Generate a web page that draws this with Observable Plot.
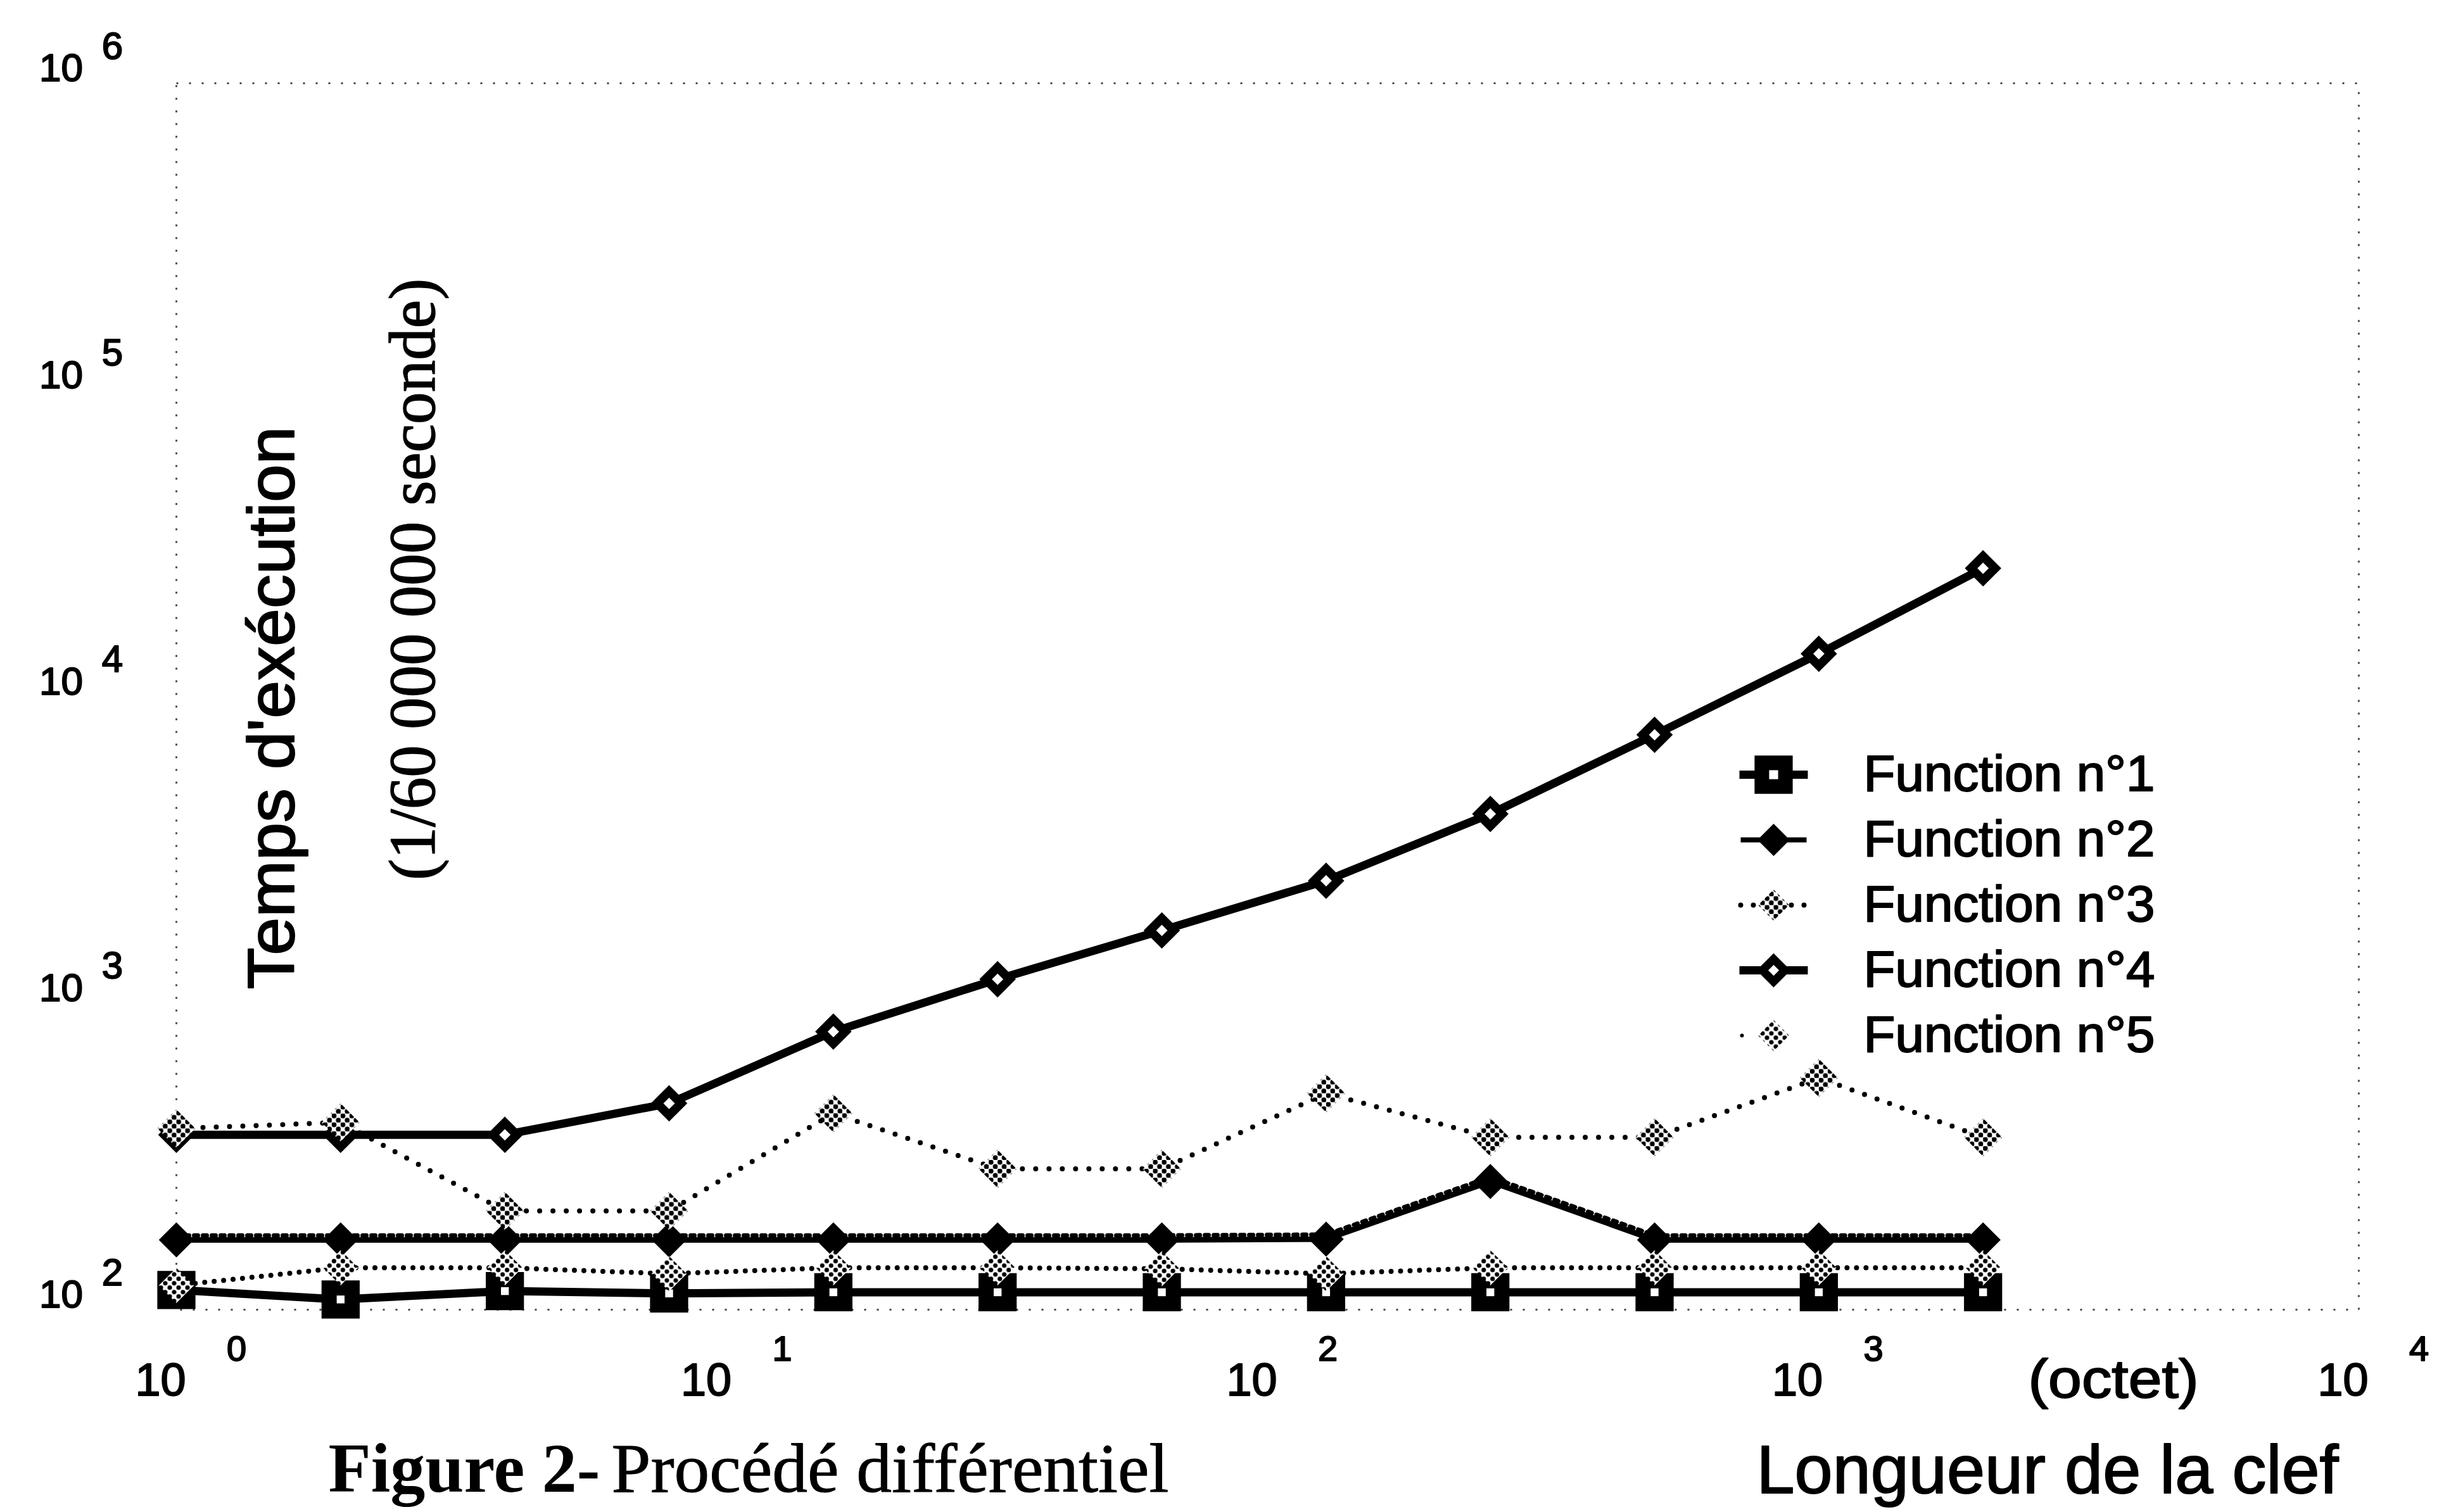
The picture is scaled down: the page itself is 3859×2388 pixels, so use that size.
<!DOCTYPE html>
<html>
<head>
<meta charset="utf-8">
<script src="https://cdn.jsdelivr.net/npm/d3@7"></script>
<script src="https://cdn.jsdelivr.net/npm/@observablehq/plot@0.6"></script>
<style>
  html, body { margin: 0; padding: 0; background: #fff; }
  #chart { width: 3859px; height: 2388px; overflow: hidden; }
</style>
</head>
<body>
<div id="chart"></div>
<script>
// ---------- data ----------
const keyLength = [1, 2, 4, 8, 16, 32, 64, 128, 256, 512, 1024, 2048];
const function1 = [116, 108, 115, 113, 114, 114, 114, 114, 114, 114, 114, 114];
const function2 = [169, 169, 169, 169, 169, 169, 169, 170, 262, 169, 169, 169];
const function3 = [390, 408, 210, 210, 437, 288, 288, 508, 365, 365, 570, 365];
const function4 = [372, 372, 372, 471, 807, 1196, 1726, 2506, 4140, 7500, 13780, 26190];
const function5 = [120, 137, 137, 131, 137, 137, 136, 131, 137, 137, 137, 137];
const seriesNames = ["Function n°1", "Function n°2", "Function n°3", "Function n°4", "Function n°5"];
const xTicks = [1, 10, 100, 1000, 10000];
const yTicks = [100, 1000, 10000, 100000, 1000000];
const tickBase = "10";
const yTitle = "Temps d'exécution";
const yUnit = "(1/60 000 000 seconde)";
const xUnit = "(octet)";
const xTitle = "Longueur de la clef";
const captionBold = "Figure 2-";
const captionText = "Procédé différentiel";

// ---------- helpers ----------
const sans = "'Liberation Sans', Arial, Helvetica, sans-serif";
const serif = "'Liberation Serif', 'Times New Roman', serif";
const toRows = vals => keyLength.map((k, i) => ({k, v: vals[i]}));
const s1 = toRows(function1), s2 = toRows(function2), s3 = toRows(function3),
      s4 = toRows(function4), s5 = toRows(function5);
const expo = d => String(Math.round(Math.log10(d)));
const PAT3 = "#010203", PAT5 = "#030201";   // sentinels replaced by patterns
const ink = {fill: "#000", stroke: "#000", strokeWidth: 2};

const hline = half => ({draw(ctx) { ctx.moveTo(-half, 0); ctx.lineTo(half, 0); }});

// legend layout (relative to the frame's top-left corner)
const legSymDx = 2522, legTextDx = 2664, legDy0 = 1092, legStep = 103;
const legendMarks = [];
seriesNames.forEach((name, i) => {
  const dy = legDy0 + i * legStep;
  const base = {frameAnchor: "top-left", dx: legSymDx, dy};
  if (i === 0) {
    legendMarks.push(Plot.dot([name], {...base, symbol: hline(54), stroke: "#000", strokeWidth: 13, fill: "none"}));
    legendMarks.push(Plot.dot([name], {...base, symbol: "square", r: 34, fill: "#000", stroke: "none"}));
    legendMarks.push(Plot.dot([name], {...base, symbol: "square", r: 8, fill: "#fff", stroke: "none"}));
  } else if (i === 1) {
    legendMarks.push(Plot.dot([name], {...base, symbol: hline(52), stroke: "#000", strokeWidth: 8, fill: "none"}));
    legendMarks.push(Plot.dot([name], {...base, symbol: "diamond2", r: 23, fill: "#000", stroke: "none"}));
  } else if (i === 2) {
    legendMarks.push(Plot.dot([name], {...base, symbol: hline(52), stroke: "#000", strokeWidth: 8, strokeDasharray: "0,20", strokeLinecap: "round", fill: "none"}));
    legendMarks.push(Plot.dot([name], {...base, symbol: "diamond2", r: 22, fill: PAT3, stroke: "none"}));
  } else if (i === 3) {
    legendMarks.push(Plot.dot([name], {...base, symbol: hline(54), stroke: "#000", strokeWidth: 13, fill: "none"}));
    legendMarks.push(Plot.dot([name], {...base, symbol: "diamond2", r: 16, fill: "#fff", stroke: "#000", strokeWidth: 13}));
  } else {
    legendMarks.push(Plot.dot([name], {...base, symbol: hline(50), stroke: "#000", strokeWidth: 6, strokeDasharray: "0,100", strokeLinecap: "round", fill: "none"}));
    legendMarks.push(Plot.dot([name], {...base, symbol: "diamond2", r: 22, fill: PAT5, stroke: "none"}));
  }
  legendMarks.push(Plot.text([name], {frameAnchor: "top-left", dx: legTextDx, dy, text: d => d,
    textAnchor: "start", lineAnchor: "middle", fontSize: 80, fontFamily: sans, ...ink}));
});

const chart = Plot.plot({
  width: 3859,
  height: 2388,
  marginTop: 131,
  marginLeft: 278,
  marginRight: 135,
  marginBottom: 320,
  style: {background: "#fff", overflow: "visible"},
  x: {type: "log", domain: [1, 10000], axis: null},
  y: {type: "log", domain: [100, 1000000], axis: null},
  marks: [
    Plot.frame({stroke: "#000", strokeWidth: 3, strokeDasharray: "3,17", strokeOpacity: 0.7}),

    // Function n°1 : thick line, black squares with a white hole
    Plot.line(s1, {x: "k", y: "v", stroke: "#000", strokeWidth: 13}),
    Plot.dot(s1, {x: "k", y: "v", symbol: "square", r: 34, fill: "#000", stroke: "none"}),
    Plot.dot(s1, {x: "k", y: "v", symbol: "square", r: 7, fill: "#fff", stroke: "none"}),

    // Function n°2 : line with teeth, black diamonds
    Plot.line(s2, {x: "k", y: "v", stroke: "#000", strokeWidth: 9}),
    Plot.line(s2, {x: "k", y: "v", stroke: "#000", strokeWidth: 7, strokeDasharray: "6,8", dy: -7}),
    Plot.dot(s2, {x: "k", y: "v", symbol: "diamond2", r: 25, fill: "#000", stroke: "none"}),

    // Function n°4 : thick line, open diamonds
    Plot.line(s4, {x: "k", y: "v", stroke: "#000", strokeWidth: 13}),
    Plot.dot(s4, {x: "k", y: "v", symbol: "diamond2", r: 17, fill: "#fff", stroke: "#000", strokeWidth: 14}),

    // Function n°5 : dotted line, checker diamonds
    Plot.line(s5, {x: "k", y: "v", stroke: "#000", strokeWidth: 8, strokeDasharray: "0,15", strokeLinecap: "round"}),
    Plot.dot(s5, {x: "k", y: "v", symbol: "diamond2", r: 25, fill: PAT5, stroke: "none"}),

    // Function n°3 : dotted line, checker diamonds
    Plot.line(s3, {x: "k", y: "v", stroke: "#000", strokeWidth: 8, strokeDasharray: "0,21", strokeLinecap: "round"}),
    Plot.dot(s3, {x: "k", y: "v", symbol: "diamond2", r: 27, fill: PAT3, stroke: "none"}),

    // tick labels 10^n
    Plot.text(xTicks, {x: d => d, frameAnchor: "bottom", text: () => tickBase, textAnchor: "middle", lineAnchor: "middle",
      dx: -25, dy: 112, fontSize: 72, fontFamily: sans, ...ink}),
    Plot.text(xTicks, {x: d => d, frameAnchor: "bottom", text: expo, textAnchor: "middle", lineAnchor: "middle",
      dx: 95, dy: 63, fontSize: 56, fontFamily: sans, ...ink}),
    Plot.text(yTicks, {y: d => d, frameAnchor: "left", text: () => tickBase, textAnchor: "middle", lineAnchor: "middle",
      dx: -182, dy: -23, fontSize: 62, fontFamily: sans, ...ink}),
    Plot.text(yTicks, {y: d => d, frameAnchor: "left", text: expo, textAnchor: "middle", lineAnchor: "middle",
      dx: -101, dy: -58, fontSize: 60, fontFamily: sans, ...ink}),

    // axis titles
    Plot.text([yTitle], {frameAnchor: "left", rotate: -90, textAnchor: "middle", lineAnchor: "middle",
      dx: 152, dy: 18, text: d => d, fontSize: 104, fontFamily: sans, ...ink}),
    Plot.text([yUnit], {frameAnchor: "left", rotate: -90, textAnchor: "middle", lineAnchor: "middle",
      dx: 374, dy: -185, text: d => d, fontSize: 104, fontFamily: serif, ...ink, strokeWidth: 1.5}),
    Plot.text([xUnit], {frameAnchor: "bottom-left", dx: 2924, dy: 138, text: d => d, textAnchor: "start", lineAnchor: "bottom",
      fontSize: 86, fontFamily: sans, ...ink}),
    Plot.text([xTitle], {frameAnchor: "bottom-left", dx: 2495, dy: 289, text: d => d, textAnchor: "start", lineAnchor: "bottom",
      fontSize: 108, fontFamily: sans, ...ink}),
    Plot.text([captionBold], {frameAnchor: "bottom-left", dx: 240, dy: 287, text: d => d, textAnchor: "start", lineAnchor: "bottom",
      fontSize: 110, fontWeight: "bold", fontFamily: serif, fill: "#000"}),
    Plot.text([captionText], {frameAnchor: "bottom-left", dx: 687, dy: 287, text: d => d, textAnchor: "start", lineAnchor: "bottom",
      fontSize: 110, fontFamily: serif, fill: "#000", stroke: "#000", strokeWidth: 1}),

    ...legendMarks
  ]
});

// patterns for the checkered markers
const defs = d3.select(chart).insert("defs", ":first-child");
function checker(id, size, r) {
  const p = defs.append("pattern").attr("id", id).attr("patternUnits", "userSpaceOnUse")
    .attr("width", size).attr("height", size);
  p.append("rect").attr("width", size).attr("height", size).attr("fill", "#fff");
  p.append("circle").attr("cx", size / 4).attr("cy", size / 4).attr("r", r).attr("fill", "#000");
  p.append("circle").attr("cx", 3 * size / 4).attr("cy", 3 * size / 4).attr("r", r).attr("fill", "#000");
}
checker("pat3", 14, 4.0);
checker("pat5", 14, 3.6);
chart.querySelectorAll(`[fill="${PAT3}"]`).forEach(el => el.setAttribute("fill", "url(#pat3)"));
chart.querySelectorAll(`[fill="${PAT5}"]`).forEach(el => el.setAttribute("fill", "url(#pat5)"));

// condensed lengths of the original lettering
const lengths = new Map([
  [yTitle, 889], [yUnit, 950], [xTitle, 919], [captionText, 880], [captionBold, 429], [xUnit, 269],
  ...seriesNames.map(n => [n, 460])
]);
chart.querySelectorAll("text").forEach(t => {
  const L = lengths.get(t.textContent);
  if (L) { t.setAttribute("textLength", L); t.setAttribute("lengthAdjust", "spacingAndGlyphs"); }
});

document.getElementById("chart").appendChild(chart);
</script>
</body>
</html>
